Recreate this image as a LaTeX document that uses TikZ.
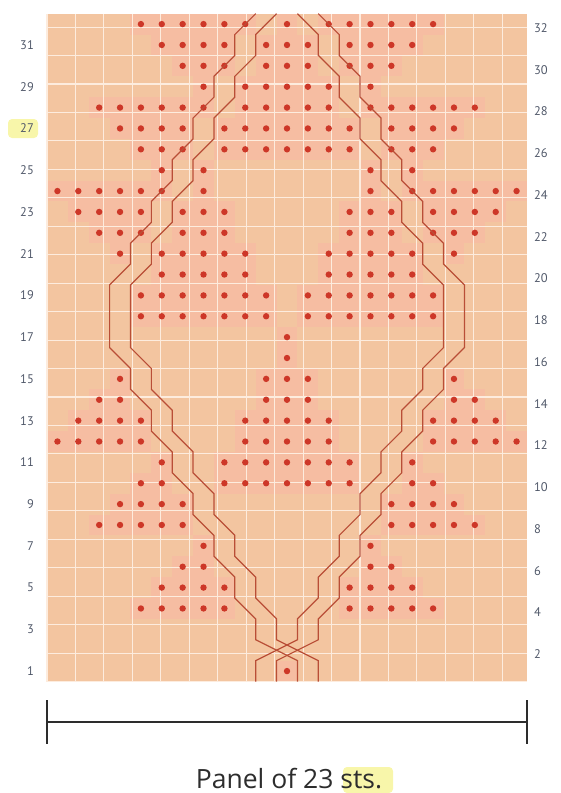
\documentclass[tikz,border=0pt]{standalone}
\usepackage{fontspec}
\setmainfont{PT Sans}
\newfontfamily\capfont{Open Sans}
\definecolor{peach}{RGB}{243,197,160}
\definecolor{pinkcell}{RGB}{246,189,162}
\definecolor{gridw}{RGB}{253,236,222}
\definecolor{dotred}{RGB}{205,55,40}
\definecolor{cablec}{RGB}{185,78,55}
\definecolor{labc}{RGB}{80,88,105}
\definecolor{hl}{RGB}{248,246,170}
\definecolor{ink}{RGB}{45,45,45}
\begin{document}
\begin{tikzpicture}[x=1pt,y=-1pt,
  rowlab/.style={font=\fontsize{12.5}{12.5}\selectfont, text=labc, inner sep=0pt},
  cableline/.style={draw=cablec, line width=1.2pt, line join=miter},
  barline/.style={draw=ink, line width=2pt},
  tickline/.style={draw=ink, line width=2.5pt},
  captext/.style={font=\capfont\fontsize{26.5}{26.5}\selectfont, text=ink, inner sep=0pt}
]
\useasboundingbox (0,0) rectangle (560,793);
% highlights
\fill[hl, rounded corners=4pt] (8,119) rectangle (38,138);
\fill[hl, rounded corners=4pt] (343,767) rectangle (393,793);
\begin{scope}[shift={(47pt,-681.5pt)}, x=20.87pt, y=20.87pt]
  \fill[peach] (0,0) rectangle (23,32);
  \def\dotrows{32/{5,6,7,8,9,10,12,14,15,16,17,18,19},
    31/{6,7,8,9,11,12,13,15,16,17,18},
    30/{7,8,9,11,12,13,15,16,17},
    29/{8,10,11,12,13,14,16},
    28/{3,4,5,6,7,8,10,11,12,13,14,16,17,18,19,20,21},
    27/{4,5,6,7,9,10,11,12,13,14,15,17,18,19,20},
    26/{5,6,7,9,10,11,12,13,14,15,17,18,19},
    25/{6,8,16,18},
    24/{1,2,3,4,5,6,8,16,18,19,20,21,22,23},
    23/{2,3,4,5,7,8,9,15,16,17,19,20,21,22},
    22/{3,4,5,7,8,9,15,16,17,19,20,21},
    21/{4,6,7,8,9,10,14,15,16,17,18,20},
    20/{6,7,8,9,10,14,15,16,17,18},
    19/{5,6,7,8,9,10,11,13,14,15,16,17,18,19},
    18/{5,6,7,8,9,10,11,13,14,15,16,17,18,19},
    17/{12},
    16/{12},
    15/{4,11,12,13,20},
    14/{3,4,11,12,13,20,21},
    13/{2,3,4,5,10,11,12,13,14,19,20,21,22},
    12/{1,2,3,4,5,10,11,12,13,14,19,20,21,22,23},
    11/{6,9,10,11,12,13,14,15,18},
    10/{5,6,9,10,11,12,13,14,15,18,19},
    9/{4,5,6,7,17,18,19,20},
    8/{3,4,5,6,7,17,18,19,20,21},
    7/{8,16},
    6/{7,8,16,17},
    5/{6,7,8,9,15,16,17,18},
    4/{5,6,7,8,9,15,16,17,18,19},
    1/{12}}
  \foreach \r/\cols in \dotrows {
    \foreach \c in \cols {
      \fill[pinkcell] (\c-1,\r-1) rectangle (\c,\r);
    }
  }
  \draw[gridw, line width=1.1pt] (0,0) grid (23,32);
  \foreach \r/\cols in \dotrows {
    \foreach \c in \cols {
      \fill[dotred] (\c-0.5,\r-0.5) circle[radius=3.2pt];
    }
  }
  % cables
  \foreach \s in {0,1} {
    \begin{scope}[xshift=\s*20.87pt]
      \draw[cableline] (12,0)--(12,1)--(10,2)--(10,3)--(9,4)--(9,5)--(8,6)--(8,7)--(7,8)--(7,9)--(6,10)--(6,11)--(5,12)--(5,13)--(4,14)--(4,15)--(3,16)--(3,19)--(4,20)--(4,21)--(5,22)--(5,23)--(6,24)--(6,25)--(7,26)--(7,27)--(8,28)--(8,29)--(9,30)--(9,31)--(10,32);
    \end{scope}
    \begin{scope}[xshift={(23-\s)*20.87pt}, xscale=-1]
      \draw[cableline] (12,0)--(12,1)--(10,2)--(10,3)--(9,4)--(9,5)--(8,6)--(8,7)--(7,8)--(7,9)--(6,10)--(6,11)--(5,12)--(5,13)--(4,14)--(4,15)--(3,16)--(3,19)--(4,20)--(4,21)--(5,22)--(5,23)--(6,24)--(6,25)--(7,26)--(7,27)--(8,28)--(8,29)--(9,30)--(9,31)--(10,32);
    \end{scope}
  }
  % row labels
  \foreach \r in {1,3,...,31} {
    \node[rowlab, anchor=east] (L\r) at (-0.62,\r-0.5) {\r};
  }
  \foreach \r in {2,4,...,32} {
    \node[rowlab, anchor=west] (R\r) at (23.33,\r-0.69) {\r};
  }
\end{scope}
% panel bar
\coordinate (bl) at (47,722);
\coordinate (br) at (527,722);
\coordinate (blt) at (47,700);
\coordinate (blb) at (47,744);
\coordinate (brt) at (527,700);
\coordinate (brb) at (527,744);
\draw[barline] (bl) -- (br);
\draw[tickline] (blt) -- (blb);
\draw[tickline] (brt) -- (brb);
\node[captext, anchor=base] (cap) at (289,788) {Panel of 23 sts.};
\end{tikzpicture}
\end{document}
